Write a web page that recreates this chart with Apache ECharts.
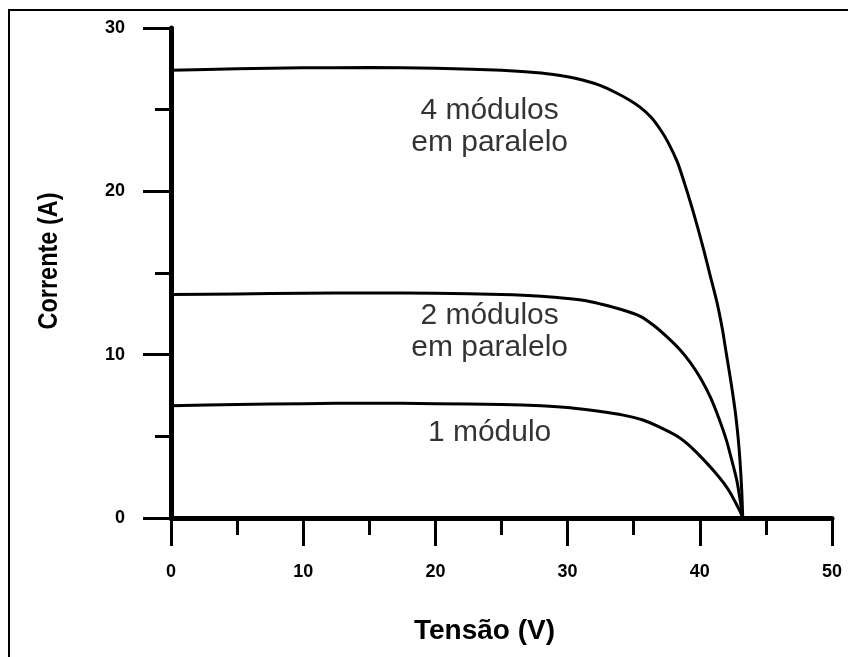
<!DOCTYPE html>
<html>
<head>
<meta charset="utf-8">
<script src="https://cdn.jsdelivr.net/npm/echarts@6/dist/echarts.min.js"></script>
<style>
html,body{margin:0;padding:0;background:#fff;}
#chart{width:848px;height:657px;}
</style>
</head>
<body>
<div id="chart"></div>
<script>
// Tensão (V) / Corrente (A) pairs
const curve4 = [[0,27.42],[5,27.5],[10,27.56],[15,27.58],[20,27.54],[25,27.42],[28,27.25],[30,27.02],[31.2,26.8],[32.5,26.47],[33.7,26.02],[34.7,25.58],[35.5,25.14],[36.3,24.55],[37,23.8],[37.6,23.0],[38.3,21.8],[38.8,20.6],[39.3,19.3],[39.8,17.9],[40.3,16.4],[40.8,14.8],[41.3,13.2],[41.7,11.6],[42,10.1],[42.4,8.1],[42.7,6.4],[42.9,4.9],[43.05,3.4],[43.17,1.7],[43.25,0]];
const curve2 = [[0,13.68],[5,13.72],[10,13.76],[15,13.78],[20,13.76],[25,13.68],[28,13.58],[30.2,13.43],[31.5,13.29],[32.5,13.1],[34,12.78],[35.5,12.35],[36.5,11.8],[37.5,11.1],[38.5,10.3],[39.3,9.5],[40.1,8.5],[40.8,7.4],[41.4,6.2],[42,4.8],[42.4,3.6],[42.8,2.3],[43.05,1.1],[43.25,0]];
const curve1 = [[0,6.87],[5,6.95],[10,7.0],[15,7.03],[20,7.0],[25,6.95],[28,6.87],[30.2,6.75],[32.5,6.52],[34.2,6.3],[35.7,6.0],[37,5.55],[38.3,5.0],[39.4,4.3],[40.3,3.56],[41.1,2.85],[41.8,2.15],[42.3,1.55],[42.8,0.8],[43.05,0.4],[43.25,0]];
const annotations = [
  [24.1, 23.93, '4 módulos\nem paralelo'],
  [24.1, 11.38, '2 módulos\nem paralelo'],
  [24.1, 5.21, '1 módulo']
];
const xTitle = 'Tensão (V)';
const yTitle = 'Corrente (A)';

const chart = echarts.init(document.getElementById('chart'));
const lineStyle = {color:'#000', width:3};
const tickFont = {color:'#000', fontWeight:'bold', fontSize:18, fontFamily:'Liberation Sans, Arial, sans-serif'};
function mkLine(name, data){
  return {name:name, type:'line', data:data, smooth:0.25, symbol:'none', lineStyle:lineStyle, z:3, animation:false};
}
chart.setOption({
  animation:false,
  backgroundColor:'#fff',
  graphic:[
    {type:'rect', shape:{x:9, y:10, width:860, height:680}, style:{fill:'none', stroke:'#000', lineWidth:2}, silent:true},
    {type:'text', x:49, y:261, rotation:Math.PI/2, scaleX:0.84, silent:true,
     style:{text:yTitle, fill:'#000', font:'bold 28px "Liberation Sans", Arial, sans-serif', textAlign:'center', textVerticalAlign:'middle'}}
  ],
  grid:{left:171, right:16, top:28, bottom:139},
  xAxis:{
    type:'value', min:0, max:50, interval:10,
    axisLine:{lineStyle:{color:'#000', width:5}},
    axisTick:{length:28, lineStyle:{color:'#000', width:3}},
    minorTick:{show:true, splitNumber:2, length:17, lineStyle:{color:'#000', width:3}},
    splitLine:{show:false},
    axisLabel:Object.assign({margin:45}, tickFont),
    name:xTitle, nameLocation:'middle', nameGap:99,
    nameTextStyle:{color:'#000', fontWeight:'bold', fontSize:28, fontFamily:'Liberation Sans, Arial, sans-serif', padding:[0,34,0,0]}
  },
  yAxis:{
    type:'value', min:0, max:30, interval:10,
    axisLine:{lineStyle:{color:'#000', width:5}},
    axisTick:{length:28, lineStyle:{color:'#000', width:3}},
    minorTick:{show:true, splitNumber:2, length:16, lineStyle:{color:'#000', width:3}},
    splitLine:{show:false},
    axisLabel:Object.assign({margin:46}, tickFont)
  },
  series:[
    mkLine('4 módulos', curve4),
    mkLine('2 módulos', curve2),
    mkLine('1 módulo', curve1),
    {type:'scatter', data:annotations, symbolSize:0, silent:true, animation:false,
     label:{show:true, position:'inside', formatter:p=>p.value[2], color:'#000', fontSize:30, lineHeight:32, fontFamily:'Liberation Sans, Arial, sans-serif', align:'center', verticalAlign:'middle'}}
  ]
});
</script>
</body>
</html>
